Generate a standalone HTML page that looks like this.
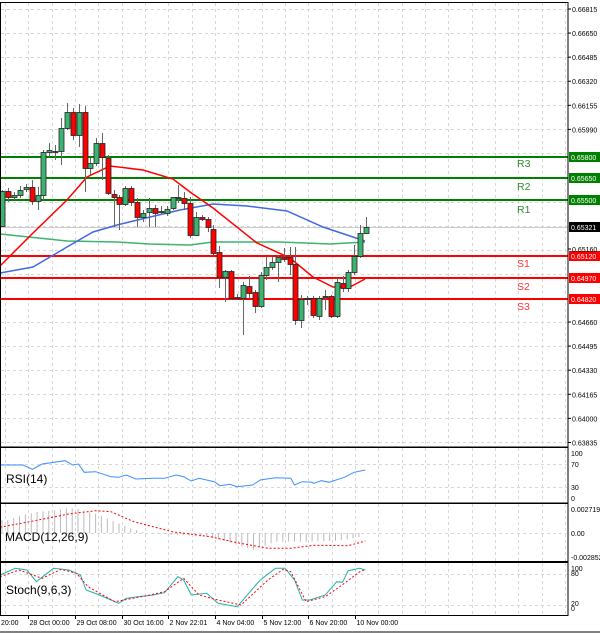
<!DOCTYPE html>
<html><head><meta charset="utf-8"><style>
html,body{margin:0;padding:0;background:#fff;}
svg{display:block;font-family:"Liberation Sans",sans-serif;}
</style></head><body>
<svg id="s" width="600" height="633" viewBox="0 0 600 633" xmlns="http://www.w3.org/2000/svg">
<rect x="0" y="0" width="600" height="633" fill="#fff"/>
<g id="grid" stroke="#d8d8d8" stroke-width="1" stroke-dasharray="3,3" fill="none"></g>
<g id="lv"></g>
<g id="ma"></g>
<g id="cd"></g>
<g id="ind"></g>
<g fill="none" stroke="#000" stroke-width="1">
<rect x="0.5" y="2.5" width="567.5" height="444.5"/>
<rect x="0.5" y="447.5" width="567.5" height="55.5"/>
<rect x="0.5" y="503.5" width="567.5" height="58"/>
<rect x="0.5" y="562.5" width="567.5" height="53"/>
<line x1="0" y1="632" x2="600" y2="632"/>
</g>
<g id="ax" font-size="7" fill="#000"></g>
<g font-size="12" fill="#000">
<text x="6" y="483">RSI(14)</text>
<text x="5" y="541">MACD(12,26,9)</text>
<text x="6" y="594">Stoch(9,6,3)</text>
</g>
<g font-size="10.5">
<text x="517" y="167" fill="#2e8b2e">R3</text>
<text x="517" y="190" fill="#2e8b2e">R2</text>
<text x="517" y="213" fill="#2e8b2e">R1</text>
<text x="517" y="267" fill="#f33">S1</text>
<text x="517" y="290" fill="#f33">S2</text>
<text x="517" y="310" fill="#f33">S3</text>
</g>
</svg>
<script>
var NS="http://www.w3.org/2000/svg";
function el(p,t,a,txt){var e=document.createElementNS(NS,t);for(var k in a)e.setAttribute(k,a[k]);if(txt!==undefined)e.textContent=txt;document.getElementById(p).appendChild(e);return e;}
for(var x=5;x<568;x+=23.333){var xx=Math.round(x)+0.5;
 el('grid','line',{x1:xx,y1:3,x2:xx,y2:446});el('grid','line',{x1:xx,y1:448,x2:xx,y2:502});
 el('grid','line',{x1:xx,y1:504,x2:xx,y2:561});el('grid','line',{x1:xx,y1:563,x2:xx,y2:615});}
for(var i=0;i<19;i++){var y=9+i*24.08;var yy=Math.round(y)+0.5;
 el('grid','line',{x1:1,y1:yy,x2:567,y2:yy});}
[464,487].forEach(function(y){el('grid','line',{x1:1,y1:y+.5,x2:567,y2:y+.5});});
el('grid','line',{x1:1,y1:533.5,x2:567,y2:533.5});
[574,605].forEach(function(y){el('grid','line',{x1:1,y1:y+.5,x2:567,y2:y+.5});});
var pl=["0.66815","0.66650","0.66485","0.66320","0.66155","0.65990",null,null,null,null,"0.65160",null,null,"0.64660","0.64495","0.64330","0.64165","0.64000","0.63835"];
for(var i=0;i<pl.length;i++){if(!pl[i])continue;var y=9+i*24.08;if(i==10)y=249;if(i==18)y=442.5;
 el('ax','line',{x1:568,y1:y,x2:571,y2:y,stroke:'#000'});el('ax','text',{x:572,y:y+3},pl[i]);}
[[453,"100"],[464,"70"],[487,"30"],[498,"0"]].forEach(function(a){el('ax','text',{x:571,y:a[0]+3},a[1]);});
[[509,"0.002719"],[533,"0.00"],[557,"-0.002852"]].forEach(function(a){el('ax','text',{x:571,y:a[0]+3},a[1]);});
[[568,"100"],[573,"80"],[603,"20"],[608,"0"]].forEach(function(a){el('ax','text',{x:571,y:a[0]+3},a[1]);});
[[-18.3,"20:00"],[28.3,"28 Oct 00:00"],[75,"29 Oct 08:00"],[121.7,"30 Oct 16:00"],[168.3,"2 Nov 22:01"],[215,"4 Nov 04:00"],[261.7,"5 Nov 12:00"],[308.3,"6 Nov 20:00"],[355,"10 Nov 00:00"]].forEach(function(a){
 var x=Math.round(a[0])+0.5; if(x>0) el('ax','line',{x1:x,y1:616,x2:x,y2:619,stroke:'#000'});
 el('ax','text',{x:Math.max(1,x+1),y:625},a[1]);});
[[157,"#008000","0.65800"],[178,"#008000","0.65650"],[200,"#008000","0.65500"],[256,"#ff0000","0.65120"],[278,"#ff0000","0.64970"],[299,"#ff0000","0.64820"]].forEach(function(a){
 el('lv','line',{x1:0,y1:a[0],x2:568,y2:a[0],stroke:a[1],'stroke-width':2});
 el('lv','rect',{x:569,y:a[0]-5,width:31,height:10,fill:a[1]});
 el('lv','text',{x:571,y:a[0]+3,'font-size':7,fill:'#fff'},a[2]);});
el('lv','line',{x1:0,y1:227.5,x2:568,y2:227.5,stroke:'#ccc','stroke-width':1});
el('lv','rect',{x:569,y:222,width:31,height:10,fill:'#000'});
el('lv','text',{x:571,y:230,'font-size':7,fill:'#fff'},"0.65321");
function pts(a){return a.map(function(p){return p[0].toFixed(1)+","+p[1].toFixed(1);}).join(" ");}
el('ma','polyline',{points:pts([[0,234],[67,241],[117,242],[150,244],[190,245],[213,242],[280,242],[330,244],[365,242]]),fill:'none',stroke:'#3cb371','stroke-width':1.5});
el('ma','polyline',{points:pts([[0,273],[33,267],[67,247],[93,232],[117,225],[150,217],[180,210],[213,204],[247,206],[287,211],[323,227],[365,241]]),fill:'none',stroke:'#4169e1','stroke-width':1.5});
el('ma','polyline',{points:pts([[0,266],[33,233],[67,200],[87,177],[110,166],[143,170],[173,179],[190,192],[213,208],[257,243],[290,258],[313,277],[333,287],[350,287],[365,279]]),fill:'none',stroke:'#ff0000','stroke-width':1.5});
var C=[[2,191,226,190,227,1],[8,191,197,188,202,0],[14,195,197,192,200,1],[20,190,195,186,198,1],[26,187,189,184,192,1],[32,187,201,180,205,0],[38,195,201,187,210,1],[43,152,195,150,200,1],[49,150,152,143,157,1],[55,151,152,145,160,1],[61,128,151,118,165,1],[67,112,128,103,130,1],[73,112,135,108,140,0],[79,112,135,104,147,1],[85,112,168,106,192,0],[90,163,168,158,175,1],[96,143,163,138,166,1],[102,143,157,133,180,0],[108,158,193,155,195,0],[114,194,197,190,227,0],[119,197,204,195,230,0],[125,188,204,186,206,1],[131,188,202,186,206,0],[137,202,217,198,227,0],[143,213,217,210,222,1],[149,208,212,198,227,1],[155,208,213,205,227,0],[161,211,212,206,214,1],[167,209,213,206,216,1],[173,197,208,197,210,1],[178,197,198,185,203,1],[184,198,203,192,210,0],[190,203,235,197,238,0],[196,217,235,212,236,1],[202,217,219,215,221,0],[208,219,227,217,232,0],[213,229,253,225,255,0],[219,252,277,246,288,0],[225,271,277,270,302,1],[231,271,298,270,300,0],[237,297,298,294,299,1],[243,285,298,282,335,1],[249,286,293,276,298,0],[255,292,306,290,313,0],[261,275,306,272,308,1],[266,267,275,257,280,1],[272,262,267,257,270,1],[278,257,262,255,282,1],[284,257,259,248,262,0],[290,257,264,247,275,0],[295,264,320,247,325,0],[301,299,320,295,328,1],[307,298,299,296,305,1],[313,298,315,296,318,0],[319,298,316,296,320,1],[325,296,297,290,310,1],[331,296,316,295,318,0],[337,282,316,278,318,1],[343,283,288,276,292,0],[348,272,288,270,292,1],[354,256,272,245,275,1],[360,233,256,225,258,1],[366,227,233,217,234,1]];
C.forEach(function(c){var x=c[0]+0.5;
 el('cd','line',{x1:x,y1:c[3],x2:x,y2:c[4],stroke:'#666','stroke-width':1});
 var h=Math.max(1,c[2]-c[1]);
 el('cd','rect',{x:c[0]-2,y:c[1]+0.5,width:5,height:h,fill:c[5]?'#3cb371':'#ff0000',stroke:'#222','stroke-width':0.8});});
var K=600/1568;
function sc(a,oy){return a.map(function(p){return [p[0]*K,p[1]/3+oy];});}
el('ind','polyline',{points:pts(sc([[0,75],[60,75],[85,88],[110,72],[170,62],[190,75],[205,72],[220,97],[250,95],[290,110],[310,112],[330,105],[355,117],[400,115],[430,115],[460,105],[480,110],[500,123],[520,115],[560,125],[575,137],[600,133],[620,140],[660,135],[680,120],[720,113],[760,115],[770,135],[790,125],[815,127],[820,130],[840,122],[860,127],[870,123],[900,112],[925,97],[955,90]],440)),fill:'none',stroke:'#3d8fff','stroke-width':1});
var HB=[[20,240],[60,225],[100,215],[140,212],[170,205],[190,205],[210,208],[230,215],[260,225],[280,235],[300,245],[320,255],[340,265],[360,272],[380,278],[400,280],[540,290],[580,300],[620,315],[660,330],[680,322],[720,305],[760,305],[800,305],[860,303],[900,300],[940,290]];
function hy(x){for(var i=0;i<HB.length-1;i++){if(x>=HB[i][0]&&x<=HB[i+1][0]){var t=(x-HB[i][0])/(HB[i+1][0]-HB[i][0]);return HB[i][1]+t*(HB[i+1][1]-HB[i][1]);}}return 280;}
for(var xi=2;xi<=362;xi+=5.85){var X3=xi/K;if(X3<10)X3=20;if(X3>940)X3=940;var y=hy(X3)/3+440;
 el('ind','line',{x1:xi.toFixed(1),y1:533,x2:xi.toFixed(1),y2:y.toFixed(1),stroke:'#bbb','stroke-width':1});}
el('ind','polyline',{points:pts(sc([[0,262],[100,240],[180,222],[250,212],[290,215],[350,245],[450,275],[550,290],[620,308],[700,325],[760,325],[820,316],[910,317],[955,303]],440)),fill:'none',stroke:'#ff0000','stroke-width':1,'stroke-dasharray':'2,2'});
el('ind','polyline',{points:pts(sc([[0,405],[40,385],[70,390],[95,425],[140,385],[180,390],[210,405],[225,450],[260,465],[310,490],[330,475],[360,470],[400,465],[430,458],[465,410],[480,420],[500,465],[540,460],[570,490],[620,500],[680,420],[720,385],[745,385],[770,420],[790,480],[810,480],[850,465],[880,425],[895,427],[910,392],[940,385],[955,390]],440)),fill:'none',stroke:'#20b2aa','stroke-width':1});
el('ind','polyline',{points:pts(sc([[0,410],[50,390],[110,415],[160,388],[200,400],[230,440],[300,485],[380,468],[430,455],[480,415],[520,465],[570,480],[630,495],[700,420],[740,388],[760,395],[800,485],[850,470],[900,430],[940,395],[955,388]],440)),fill:'none',stroke:'#ff0000','stroke-width':1,'stroke-dasharray':'2,2'});
</script>
</body></html>
